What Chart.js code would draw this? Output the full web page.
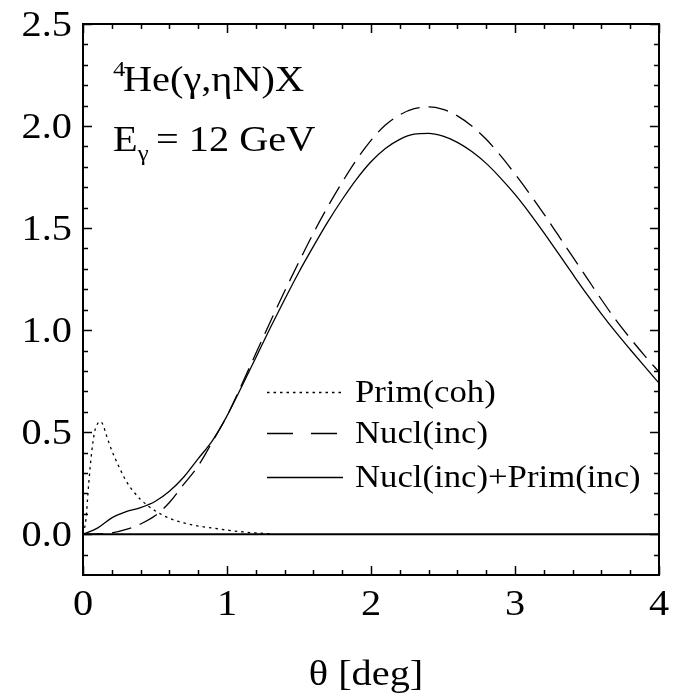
<!DOCTYPE html>
<html>
<head>
<meta charset="utf-8">
<script src="https://cdn.jsdelivr.net/npm/chart.js@4/dist/chart.umd.min.js"></script>
<style>
  html, body { margin: 0; padding: 0; background: #fff; }
  #wrap { width: 674px; height: 696px; }
</style>
</head>
<body>
<div id="wrap"><canvas id="eta_chart"></canvas></div>
<script>
// angle grid (deg) and cross sections
const theta = [0, 0.1, 0.2, 0.3, 0.4, 0.5, 0.6, 0.7, 0.8, 0.9, 1.0,
  1.1, 1.2, 1.3, 1.4, 1.5, 1.6, 1.7, 1.8, 1.9, 2.0,
  2.1, 2.2, 2.3, 2.4, 2.5, 2.6, 2.7, 2.8, 2.9, 3.0,
  3.1, 3.2, 3.3, 3.4, 3.5, 3.6, 3.7, 3.8, 3.9, 4.0];

const nucl_inc_prim_inc = [0, 0.03, 0.08, 0.11, 0.13, 0.16, 0.21, 0.28, 0.37, 0.46, 0.58,
  0.72, 0.865, 1.01, 1.15, 1.285, 1.41, 1.53, 1.64, 1.74, 1.825,
  1.89, 1.935, 1.96, 1.964, 1.95, 1.92, 1.875, 1.817, 1.745, 1.665,
  1.575, 1.478, 1.377, 1.275, 1.175, 1.08, 0.99, 0.905, 0.822, 0.74];

const nucl_inc = [0, 0.002, 0.006, 0.023, 0.05, 0.09, 0.155, 0.245, 0.335, 0.455, 0.58,
  0.73, 0.885, 1.04, 1.19, 1.335, 1.475, 1.605, 1.725, 1.835, 1.93,
  2.005, 2.055, 2.085, 2.094, 2.082, 2.05, 2.0, 1.935, 1.855, 1.765,
  1.67, 1.57, 1.465, 1.36, 1.255, 1.15, 1.05, 0.96, 0.875, 0.795];

// coherent part lives at small angles only
const theta_coh = [0, 0.02, 0.04, 0.06, 0.08, 0.1, 0.12, 0.14, 0.16, 0.2, 0.25, 0.3,
  0.35, 0.4, 0.5, 0.6, 0.7, 0.8, 0.9, 1.0, 1.1, 1.2, 1.3];
const prim_coh = [0, 0.07, 0.25, 0.40, 0.50, 0.54, 0.552, 0.535, 0.49, 0.41, 0.33, 0.26,
  0.21, 0.17, 0.115, 0.078, 0.055, 0.04, 0.03, 0.02, 0.012, 0.006, 0.002];

const x_ticks = [0, 1, 2, 3, 4];
const y_ticks = [0, 0.5, 1.0, 1.5, 2.0, 2.5];
const x_minor = [0.2, 0.4, 0.6, 0.8, 1.2, 1.4, 1.6, 1.8, 2.2, 2.4, 2.6, 2.8, 3.2, 3.4, 3.6, 3.8];
const y_minor = [-0.1, 0.1, 0.2, 0.3, 0.4, 0.6, 0.7, 0.8, 0.9, 1.1, 1.2, 1.3, 1.4,
  1.6, 1.7, 1.8, 1.9, 2.1, 2.2, 2.3, 2.4];

const legend_labels = ["Prim(coh)", "Nucl(inc)", "Nucl(inc)+Prim(inc)"];

const SERIF = '"Liberation Serif", "Times New Roman", serif';
const STRETCH = 1.12;

function toPoints(xs, ys) {
  return xs.map((x, i) => ({ x: x, y: ys[i] }));
}

// text drawn a little wide, like the original figure fonts
function wideText(ctx, str, x, y, size, align) {
  ctx.save();
  ctx.font = size + "px " + SERIF;
  const w = ctx.measureText(str).width * STRETCH;
  let x0 = x;
  if (align === "right") x0 = x - w;
  if (align === "center") x0 = x - w / 2;
  ctx.translate(x0, y);
  ctx.scale(STRETCH, 1);
  ctx.textAlign = "left";
  ctx.fillText(str, 0, 0);
  ctx.restore();
  return w;
}

const frame_plugin = {
  id: "frame",
  afterDatasetsDraw(chart) {
    const ctx = chart.ctx;
    const a = chart.chartArea;
    const xs = chart.scales.x, ys = chart.scales.y;
    ctx.save();
    ctx.strokeStyle = "#000";
    ctx.fillStyle = "#000";
    ctx.textBaseline = "alphabetic";

    // inward ticks on all four sides
    ctx.lineWidth = 1.5;
    ctx.beginPath();
    x_ticks.concat(x_minor).forEach(v => {
      const len = x_ticks.includes(v) ? 9 : 5;
      const px = Math.round(xs.getPixelForValue(v)) + 0.5;
      ctx.moveTo(px, a.bottom); ctx.lineTo(px, a.bottom - len);
      ctx.moveTo(px, a.top); ctx.lineTo(px, a.top + len);
    });
    y_ticks.concat(y_minor).forEach(v => {
      const len = y_ticks.includes(v) ? 9 : 5;
      const py = Math.round(ys.getPixelForValue(v)) + 0.5;
      ctx.moveTo(a.left, py); ctx.lineTo(a.left + len, py);
      ctx.moveTo(a.right, py); ctx.lineTo(a.right - len, py);
    });
    ctx.stroke();

    ctx.lineWidth = 2;
    ctx.strokeRect(a.left, a.top, a.right - a.left, a.bottom - a.top);

    // tick labels at the scale positions
    x_ticks.forEach(v => {
      wideText(ctx, String(v), xs.getPixelForValue(v), a.bottom + 40, 36, "center");
    });
    y_ticks.forEach(v => {
      wideText(ctx, v.toFixed(1), a.left - 11, ys.getPixelForValue(v) + 12, 36, "right");
    });

    // reaction and beam energy
    wideText(ctx, "4", 113, 76, 22);
    wideText(ctx, "He(\u03b3,\u03b7N)X", 123, 91, 36);
    const w = wideText(ctx, "E", 113, 151, 36);
    wideText(ctx, "\u03b3", 113 + w, 160, 22);
    wideText(ctx, "= 12 GeV", 156, 151, 36);

    // legend
    const rows = [392, 433, 477];
    const dashes = [[2.5, 4], [26, 18], []];
    rows.forEach((ry, i) => {
      ctx.lineWidth = 1.3;
      ctx.setLineDash(dashes[i]);
      ctx.beginPath();
      ctx.moveTo(267, ry + 0.5);
      ctx.lineTo(343, ry + 0.5);
      ctx.stroke();
      ctx.setLineDash([]);
      wideText(ctx, legend_labels[i], 355, ry + 10, 31);
    });

    // axis title
    wideText(ctx, "\u03b8 [deg]", 366, 685, 36, "center");
    ctx.restore();
  }
};

const ctx = document.getElementById("eta_chart").getContext("2d");

const my_chart = new Chart(ctx, {
  type: "line",
  data: {
    datasets: [
      {
        label: "zero",
        data: [{ x: 0, y: 0 }, { x: 4, y: 0 }],
        borderColor: "#000",
        borderWidth: 2,
      },
      {
        label: legend_labels[0],
        data: toPoints(theta_coh, prim_coh),
        borderColor: "#000",
        borderWidth: 1.3,
        borderDash: [2.5, 4],
        cubicInterpolationMode: "monotone",
      },
      {
        label: legend_labels[1],
        data: toPoints(theta, nucl_inc),
        borderColor: "#000",
        borderWidth: 1.3,
        borderDash: [20, 9],
        cubicInterpolationMode: "monotone",
      },
      {
        label: legend_labels[2],
        data: toPoints(theta, nucl_inc_prim_inc),
        borderColor: "#000",
        borderWidth: 1.3,
        cubicInterpolationMode: "monotone",
      },
    ],
  },
  options: {
    responsive: true,
    maintainAspectRatio: false,
    animation: false,
    layout: { padding: { left: 83, right: 15, top: 24, bottom: 121 } },
    elements: { point: { radius: 0 } },
    plugins: {
      legend: { display: false },
      tooltip: { enabled: false },
    },
    scales: {
      x: { type: "linear", min: 0, max: 4, display: false },
      y: { type: "linear", min: -0.2, max: 2.5, display: false },
    },
  },
  plugins: [frame_plugin],
});
</script>
</body>
</html>
